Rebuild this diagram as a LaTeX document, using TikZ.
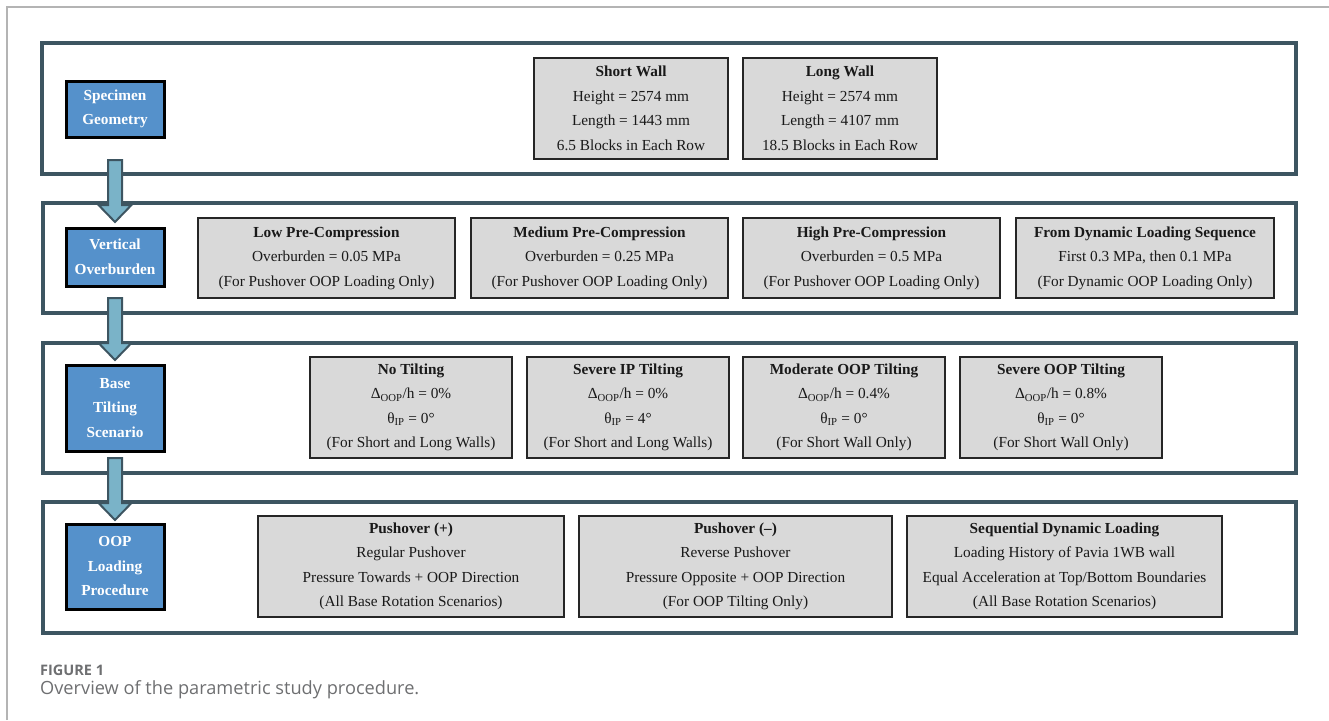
\documentclass[tikz,border=0pt]{standalone}
\usepackage{fontspec}
\setmainfont{Liberation Serif}
\newfontfamily\capfont{Open Sans}
\usepackage{xcolor}
\usetikzlibrary{calc,positioning}

\definecolor{panelline}{HTML}{3D5561}
\definecolor{arrowfill}{HTML}{7AB3C8}
\definecolor{stepblue}{HTML}{5591CB}
\definecolor{boxgray}{HTML}{D9D9D9}
\definecolor{captiongray}{HTML}{6E6F71}
\definecolor{framegray}{HTML}{B4B4B4}

\tikzset{
  panel/.style={draw=panelline, line width=4pt},
  stepbox/.style={draw=black, line width=3pt, fill=stepblue, text=white, font=\fontsize{15.3}{24.5}\selectfont\bfseries, align=center, inner sep=0pt, minimum width=98pt},
  graybox/.style={draw=black!85, line width=2pt, fill=boxgray, text=black!90, font=\fontsize{15.3}{24.5}\selectfont, align=center, inner sep=0pt},
  flowarr/.style={draw=panelline, line width=2pt, fill=arrowfill, line join=miter}
}

% block arrow from top of shaft (#1) to tip (#2)
\newcommand{\flowarrow}[2]{%
  \draw[flowarr] ($(#1)+(-7,0)$) -- ($(#1)+(7,0)$) -- ($(#2)+(7,-17)$) -- ($(#2)+(16.5,-17)$)
    -- (#2) -- ($(#2)+(-16.5,-17)$) -- ($(#2)+(-7,-17)$) -- cycle;}
\newcommand{\ttl}[1]{\textbf{#1}}

\begin{document}
\begin{tikzpicture}[x=1pt, y=-1pt]
  \useasboundingbox (0,0) rectangle (1329,720);
  \draw[framegray, line width=1.5pt] (7,720) -- (7,7) -- (1329,7);

  % panels
  \draw[panel] (42,43) rectangle (1296,174);
  \draw[panel] (43,203) rectangle (1296,313);
  \draw[panel] (43,343) rectangle (1296,473);
  \draw[panel] (43,502) rectangle (1296,633);

  % arrows between the panels
  \coordinate (a1s) at (115,160);
  \coordinate (a1e) at (115,222);
  \coordinate (a2s) at (115,298);
  \coordinate (a2e) at (115,360);
  \coordinate (a3s) at (115,458);
  \coordinate (a3e) at (115,520);
  \flowarrow{a1s}{a1e}
  \flowarrow{a2s}{a2e}
  \flowarrow{a3s}{a3e}

  % step labels
  \node[stepbox, minimum height=56pt] (geo) at (115,109) {Specimen\\Geometry};
  \node[stepbox, minimum height=58pt] (ovb) at (115,257) {Vertical\\Overburden};
  \node[stepbox, minimum height=86pt] (bts) at (115,408) {Base\\Tilting\\Scenario};
  \node[stepbox, minimum height=85pt] (olp) at (115,566.5) {OOP\\Loading\\Procedure};

  % specimen geometry
  \node[graybox, minimum width=194pt, minimum height=101pt] (sw) at (631,108.5)
    {\ttl{Short Wall}\\Height = 2574 mm\\Length = 1443 mm\\6.5 Blocks in Each Row};
  \node[graybox, minimum width=194pt, minimum height=101pt] (lw) at (840,108.5)
    {\ttl{Long Wall}\\Height = 2574 mm\\Length = 4107 mm\\18.5 Blocks in Each Row};

  % vertical overburden
  \node[graybox, minimum width=257pt, minimum height=80pt] (lpc) at (326.5,258)
    {\ttl{Low Pre-Compression}\\Overburden = 0.05 MPa\\(For Pushover OOP Loading Only)};
  \node[graybox, minimum width=257pt, minimum height=80pt] (mpc) at (599.5,258)
    {\ttl{Medium Pre-Compression}\\Overburden = 0.25 MPa\\(For Pushover OOP Loading Only)};
  \node[graybox, minimum width=257pt, minimum height=80pt] (hpc) at (871.5,258)
    {\ttl{High Pre-Compression}\\Overburden = 0.5 MPa\\(For Pushover OOP Loading Only)};
  \node[graybox, minimum width=258pt, minimum height=80pt] (dls) at (1145,258)
    {\ttl{From Dynamic Loading Sequence}\\First 0.3 MPa, then 0.1 MPa\\(For Dynamic OOP Loading Only)};

  % base tilting
  \node[graybox, minimum width=202pt, minimum height=101pt] (nt) at (411,407.5)
    {\ttl{No Tilting}\\Δ\textsubscript{OOP}/h = 0\%\\θ\textsubscript{IP} = 0°\\(For Short and Long Walls)};
  \node[graybox, minimum width=202pt, minimum height=101pt] (sip) at (628,407.5)
    {\ttl{Severe IP Tilting}\\Δ\textsubscript{OOP}/h = 0\%\\θ\textsubscript{IP} = 4°\\(For Short and Long Walls)};
  \node[graybox, minimum width=202pt, minimum height=101pt] (mot) at (844,407.5)
    {\ttl{Moderate OOP Tilting}\\Δ\textsubscript{OOP}/h = 0.4\%\\θ\textsubscript{IP} = 0°\\(For Short Wall Only)};
  \node[graybox, minimum width=202pt, minimum height=101pt] (sot) at (1061,407.5)
    {\ttl{Severe OOP Tilting}\\Δ\textsubscript{OOP}/h = 0.8\%\\θ\textsubscript{IP} = 0°\\(For Short Wall Only)};

  % loading procedure
  \node[graybox, minimum width=306pt, minimum height=101pt] (pp) at (411,566.5)
    {\ttl{Pushover (+)}\\Regular Pushover\\Pressure Towards + OOP Direction\\(All Base Rotation Scenarios)};
  \node[graybox, minimum width=313pt, minimum height=101pt] (pm) at (735.5,566.5)
    {\ttl{Pushover (–)}\\Reverse Pushover\\Pressure Opposite + OOP Direction\\(For OOP Tilting Only)};
  \node[graybox, minimum width=315pt, minimum height=101pt] (sdl) at (1064.5,566.5)
    {\ttl{Sequential Dynamic Loading}\\Loading History of Pavia 1WB wall\\Equal Acceleration at Top/Bottom Boundaries\\(All Base Rotation Scenarios)};

  % caption
  \node[anchor=base west, inner sep=0pt, text=captiongray, font=\capfont\fontsize{14.5}{17}\selectfont\bfseries] (fig) at (40,675) {FIGURE 1};
  \node[anchor=base west, inner sep=0pt, text=captiongray, font=\capfont\fontsize{18.2}{21}\selectfont] (cap) at (40,694) {Overview of the parametric study procedure.};
\end{tikzpicture}
\end{document}
